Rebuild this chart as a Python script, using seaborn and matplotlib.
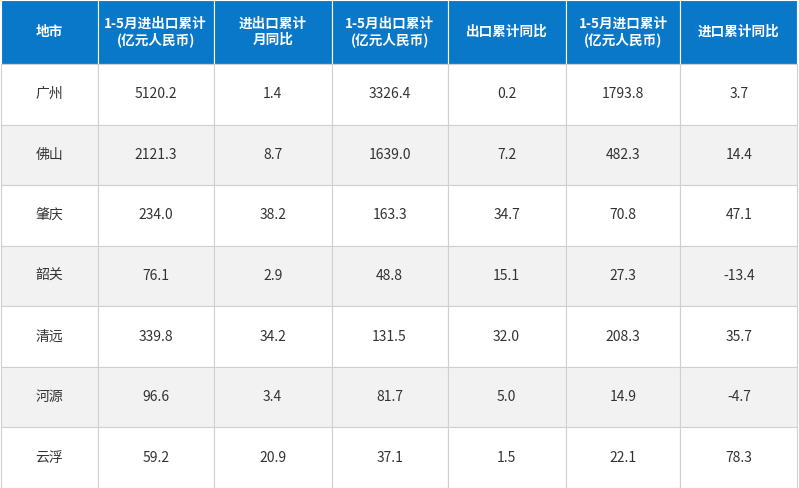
import matplotlib.pyplot as plt
import seaborn as sns

headers = ["地市", "1-5月进出口累计\n(亿元人民币)", "进出口累计\n月同比", "1-5月出口累计\n(亿元人民币)",
           "出口累计同比", "1-5月进口累计\n(亿元人民币)", "进口累计同比"]
cities = ["广州", "佛山", "肇庆", "韶关", "清远", "河源", "云浮"]
total = ["5120.2", "2121.3", "234.0", "76.1", "339.8", "96.6", "59.2"]
total_yoy = ["1.4", "8.7", "38.2", "2.9", "34.2", "3.4", "20.9"]
export = ["3326.4", "1639.0", "163.3", "48.8", "131.5", "81.7", "37.1"]
export_yoy = ["0.2", "7.2", "34.7", "15.1", "32.0", "5.0", "1.5"]
imports = ["1793.8", "482.3", "70.8", "27.3", "208.3", "14.9", "22.1"]
import_yoy = ["3.7", "14.4", "47.1", "-13.4", "35.7", "-4.7", "78.3"]

sns.set_theme(style="white")
plt.rcParams['font.family'] = ['Noto Sans CJK SC', 'DejaVu Sans']

rows = [list(r) for r in zip(cities, total, total_yoy, export, export_yoy, imports, import_yoy)]
col_w = [97, 116, 118, 116, 118, 115, 117]
col_w = [w / sum(col_w) for w in col_w]

fig = plt.figure(figsize=(7.99, 4.88), dpi=100)
ax = fig.add_axes([0, 0, 1, 1])
ax.axis("off")

tbl = ax.table(cellText=rows, colLabels=headers, colWidths=col_w, cellLoc="center",
               bbox=[0.001, 0.0, 0.997, 1.0])
tbl.auto_set_font_size(False)
head_h = 64 / 488
row_h = (1 - head_h) / len(rows)
for (r, c), cell in tbl.get_celld().items():
    cell.set_edgecolor("#d0d0d0")
    cell.set_linewidth(0.8)
    if r == 0:
        cell.set_height(head_h)
        cell.set_facecolor("#0a78c8")
        cell.set_edgecolor("#ffffff")
        cell.get_text().set_color("white")
        cell.get_text().set_fontweight("bold")
        cell.get_text().set_fontsize(9.8)
        cell.get_text().set_linespacing(1.15)
    else:
        cell.set_height(row_h)
        cell.set_facecolor("#f2f2f2" if r % 2 == 0 else "white")
        cell.get_text().set_color("#333333")
        cell.get_text().set_fontsize(10)

fig.savefig("out.png", dpi=100)
